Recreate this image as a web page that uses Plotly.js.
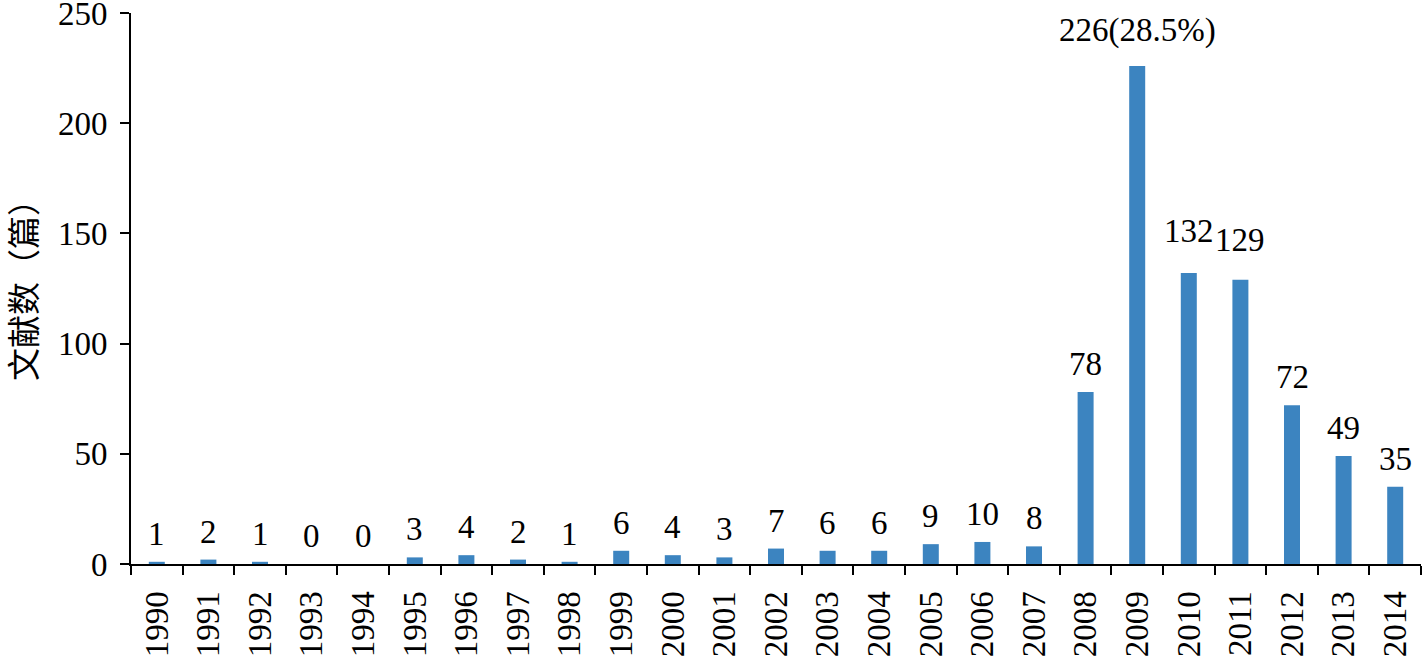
<!DOCTYPE html>
<html>
<head>
<meta charset="utf-8">
<script src="https://cdn.plot.ly/plotly-3.0.1.min.js"></script>
<style>html,body{margin:0;padding:0;background:#fff;}#chart{width:1423px;height:659px;}</style>
</head>
<body>
<div id="chart"></div>
<script>
const years = ["1990","1991","1992","1993","1994","1995","1996","1997","1998","1999","2000","2001","2002","2003","2004","2005","2006","2007","2008","2009","2010","2011","2012","2013","2014"];
const counts = [1,2,1,0,0,3,4,2,1,6,4,3,7,6,6,9,10,8,78,226,132,129,72,49,35];
const labels = ["1","2","1","0","0","3","4","2","1","6","4","3","7","6","6","9","10","8","78","226(28.5%)","132","129","72","49","35"];
const yTitle = "文献数（篇）";

const serif = "Liberation Serif, Times New Roman, serif";
const FS = 33;
// extra vertical lift (px) for a few crowded labels, as in the reference
const labelLift = {"2009": 7, "2010": 14, "2011": 12};

const trace = {
  type: "bar",
  x: years,
  y: counts,
  marker: {color: "#3C84C0"},
  hoverinfo: "x+y"
};

const annotations = years.map((yr, i) => ({
  x: i, y: counts[i], xref: "x", yref: "y",
  text: labels[i], showarrow: false,
  yanchor: "bottom", xanchor: "center", yshift: 8 + (labelLift[yr] || 0),
  font: {family: serif, size: FS, color: "#000"}
}));

annotations.push({
  xref: "paper", yref: "paper",
  x: (22 - 131) / 1290, y: (564 - 282) / 551,
  xanchor: "center", yanchor: "middle",
  text: yTitle, textangle: -90, showarrow: false,
  font: {family: "Noto Sans CJK SC, sans-serif", size: 33, color: "#000"}
});

const layout = {
  width: 1423, height: 659,
  margin: {l: 131, r: 2, t: 13, b: 95},
  paper_bgcolor: "#fff", plot_bgcolor: "#fff",
  showlegend: false,
  bargap: 0.69,
  font: {family: serif, size: FS, color: "#000"},
  xaxis: {
    type: "category",
    range: [-0.5, years.length - 0.5],
    tickson: "boundaries",
    ticks: "outside", ticklen: 9, tickwidth: 2, tickcolor: "#000",
    showline: true, linecolor: "#000", linewidth: 2,
    showgrid: false, zeroline: false,
    tickangle: -90,
    ticklabelstandoff: 12,
    tickfont: {family: serif, size: FS, color: "#000"},
    automargin: false
  },
  yaxis: {
    range: [0, 250], dtick: 50,
    ticks: "outside", ticklen: 9, tickwidth: 2, tickcolor: "#000",
    showline: true, linecolor: "#000", linewidth: 2,
    showgrid: false, zeroline: false,
    ticklabeloverflow: "allow",
    ticklabelstandoff: 6,
    tickfont: {family: serif, size: FS, color: "#000"},
    automargin: false
  },
  annotations: annotations
};

Plotly.newPlot("chart", [trace], layout, {displayModeBar: false, staticPlot: true});
</script>
</body>
</html>
